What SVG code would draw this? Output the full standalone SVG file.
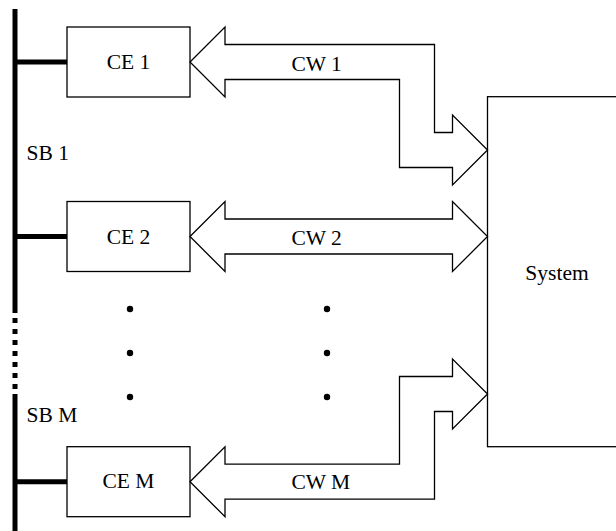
<svg xmlns="http://www.w3.org/2000/svg" width="616" height="531" viewBox="0 0 616 531">
  <style>
    .box { fill: #fff; stroke: #000; stroke-width: 1.3; }
    .arrow { fill: #fff; stroke: #000; stroke-width: 1.3; stroke-linejoin: miter; }
    .bus { stroke: #000; stroke-width: 5; fill: none; }
    .lbl { font-family: "Liberation Serif", "Times New Roman", serif; font-size: 21.5px; fill: #000; }
    .mid { text-anchor: middle; }
    .dot { fill: #000; }
  </style>

  <!-- system bus with a dotted gap -->
  <g id="bus">
    <line class="bus" x1="15" y1="9" x2="15" y2="313"/>
    <line class="bus" x1="15" y1="318" x2="15" y2="394" stroke-dasharray="5 6"/>
    <line class="bus" x1="15" y1="394" x2="15" y2="531"/>
    <line class="bus" x1="15" y1="62" x2="67" y2="62"/>
    <line class="bus" x1="15" y1="236.5" x2="67" y2="236.5"/>
    <line class="bus" x1="15" y1="481.7" x2="67" y2="481.7"/>
    <text class="lbl" x="26.5" y="160">SB 1</text>
    <text class="lbl" x="26.5" y="421.5">SB M</text>
  </g>

  <!-- system block, runs off the right edge -->
  <g id="system">
    <rect class="box" x="487.5" y="96.7" width="140" height="350"/>
    <text class="lbl mid" x="557" y="280">System</text>
  </g>

  <g id="ce1">
    <rect class="box" x="67" y="27" width="123" height="70"/>
    <text class="lbl mid" x="128.5" y="69">CE 1</text>
  </g>
  <g id="ce2">
    <rect class="box" x="67" y="201.5" width="123" height="70"/>
    <text class="lbl mid" x="128.5" y="243.5">CE 2</text>
  </g>
  <g id="ceM">
    <rect class="box" x="67" y="446.7" width="123" height="70"/>
    <text class="lbl mid" x="128.5" y="488">CE M</text>
  </g>

  <!-- wide double-headed channel arrows -->
  <g id="connectors">
    <polygon class="arrow" points="190,62 225,27 225,44.5 434.5,44.5 434.5,132.5 452.5,132.5 452.5,115 487.5,150 452.5,185 452.5,167.5 399.5,167.5 399.5,79.5 225,79.5 225,97"/>
    <polygon class="arrow" points="190,236.5 225,201.5 225,219 452.5,219 452.5,201.5 487.5,236.5 452.5,271.5 452.5,254 225,254 225,271.5"/>
    <polygon class="arrow" points="190,481.7 225,446.7 225,464.2 399.5,464.2 399.5,376.5 452.5,376.5 452.5,359 487.5,394 452.5,429 452.5,411.5 434.5,411.5 434.5,499.2 225,499.2 225,516.7"/>
    <text class="lbl" x="291.5" y="71">CW 1</text>
    <text class="lbl" x="291.5" y="245">CW 2</text>
    <text class="lbl" x="291.5" y="489">CW M</text>
  </g>

  <!-- ellipsis dots -->
  <g id="ellipsis">
    <circle class="dot" cx="130" cy="309" r="3.2"/>
    <circle class="dot" cx="130" cy="353" r="3.2"/>
    <circle class="dot" cx="130" cy="397" r="3.2"/>
    <circle class="dot" cx="327" cy="309" r="3.2"/>
    <circle class="dot" cx="327" cy="353" r="3.2"/>
    <circle class="dot" cx="327" cy="397" r="3.2"/>
  </g>
</svg>
